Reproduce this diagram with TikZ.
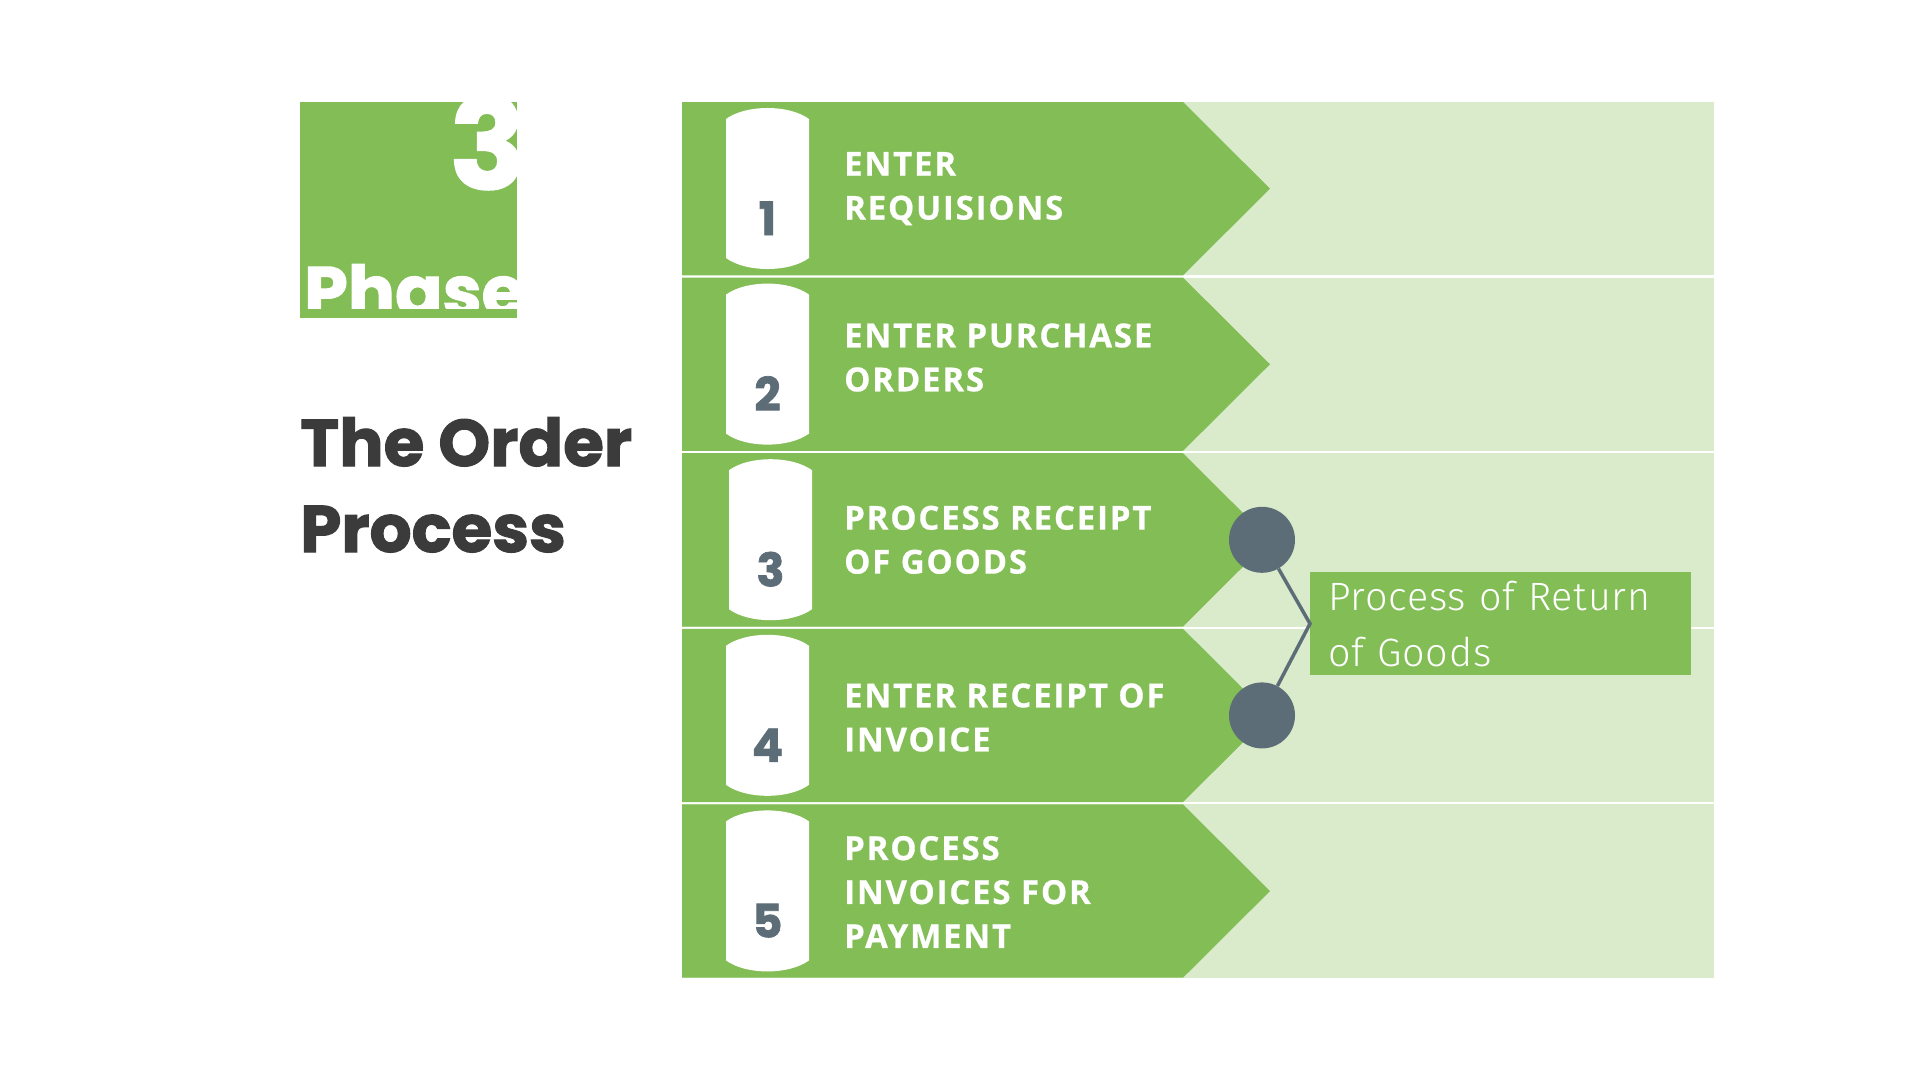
\documentclass[tikz,border=0pt]{standalone}
\usepackage{fontspec}
\setmainfont{Poppins}
\newfontfamily\heavyfont[BoldFeatures={FakeBold=1.6}]{Poppins}
\newfontfamily\stepfont[LetterSpace=5.5, BoldFeatures={FakeBold=0.6}]{Open Sans}
\newfontfamily\lightfont[LetterSpace=2]{Fira Sans Light}
\definecolor{maing}{HTML}{82BD55}
\definecolor{lightg}{HTML}{D9EBCB}
\definecolor{slate}{HTML}{5D6D78}
\definecolor{darktxt}{HTML}{3B3B3B}
\tikzset{
  steptext/.style={text=white, anchor=west, align=left, inner sep=0pt,
    font=\stepfont\bfseries\fontsize{33}{44}\selectfont},
  numtext/.style={text=slate, anchor=base, inner sep=0pt,
    font=\heavyfont\bfseries\fontsize{46}{46}\selectfont},
  titletext/.style={text=darktxt, anchor=base west, inner sep=0pt,
    font=\heavyfont\bfseries\fontsize{66}{86}\selectfont},
  capsule/.style={fill=white},
  dot/.style={circle, fill=slate, minimum size=66pt, inner sep=0pt},
  conn/.style={draw=slate, line width=3.5pt},
  retbox/.style={fill=maing, text=white, anchor=north west, align=left,
    text width=345pt, inner xsep=18pt, inner ysep=0pt, minimum height=103pt,
    font=\lightfont\fontsize{39.5}{56}\selectfont}
}
\begin{document}
\begin{tikzpicture}[x=1pt,y=-1pt]
\useasboundingbox[fill=white] (0,0) rectangle (1920,1080);
% phase square
\fill[maing] (300,102) rectangle (517,318);
\begin{scope}
\clip (300,102) rectangle (517,308);
\node[text=white, anchor=base west, inner sep=0pt, font=\heavyfont\bfseries\fontsize{70}{70}\selectfont] (phase) at (304,316) {Phase};
\node[text=white, anchor=base east, inner sep=0pt, font=\heavyfont\bfseries\fontsize{126}{126}\selectfont] (three) at (526,189) {3};
\end{scope}
% title
\node[titletext] (title1) at (300,466) {The Order};
\node[titletext] (title2) at (300,552) {Process};
% rows
\foreach \i/\dx in {1/0,2/0,3/3,4/0,5/0} {
  \pgfmathsetmacro\t{102+175.6*(\i-1)}
  \fill[lightg] (682,\t) rectangle (1714,\t+173.3);
  \fill[maing] (682,\t) -- (1183,\t) -- (1270,\t+86.65) -- (1183,\t+173.3) -- (682,\t+173.3) -- cycle;
  \fill[capsule] (726+\dx,\t+17) .. controls (746+\dx,\t+2.3) and (789+\dx,\t+2.3) .. (809+\dx,\t+17)
     -- (809+\dx,\t+156) .. controls (789+\dx,\t+170.7) and (746+\dx,\t+170.7) .. (726+\dx,\t+156) -- cycle;
  \node[numtext] (n\i) at (767.5+\dx,\t+133) {\i};
}
\node[steptext] (s1) at (844,188.6) {ENTER\\REQUISIONS};
\node[steptext] (s2) at (844,357.5) {ENTER PURCHASE\\ORDERS};
\node[steptext] (s3) at (844,539.8) {PROCESS RECEIPT\\OF GOODS};
\node[steptext] (s4) at (844,717.5) {ENTER RECEIPT OF\\INVOICE};
\node[steptext] (s5) at (844,892.0) {PROCESS\\INVOICES FOR\\PAYMENT};
% return branch
\node[retbox] (ret) at (1310,572) {Process of Return\\of Goods};
\node[dot] (c3) at (1262,539.8) {};
\node[dot] (c4) at (1262,715.4) {};
\draw[conn] (c3) -- (ret.west) -- (c4);
\end{tikzpicture}
\end{document}
